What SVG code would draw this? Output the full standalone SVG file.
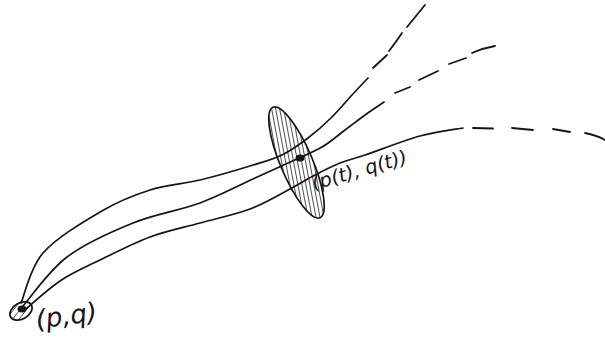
<svg xmlns="http://www.w3.org/2000/svg" width="605" height="340" viewBox="0 0 605 340">
<style>
.ink{fill:none;stroke:#151515;stroke-width:1.7;stroke-linecap:round;stroke-linejoin:round}
.dash{fill:none;stroke:#151515;stroke-width:1.8;stroke-linecap:round}
.hatch{fill:none;stroke:#3a3a3a;stroke-width:0.9}
.lbl{font-family:"DejaVu Sans",sans-serif;font-style:italic;fill:#151515}
</style>
<defs>
<clipPath id="secClip"><ellipse cx="296.5" cy="162.5" rx="60" ry="16" transform="rotate(67 296.5 162.5)"/></clipPath>
<clipPath id="startClip"><ellipse cx="21" cy="311" rx="12" ry="8" transform="rotate(-30 21 311)"/></clipPath>
</defs>
<rect width="605" height="340" fill="#ffffff"/>

<g id="section">
<ellipse cx="296.5" cy="162.5" rx="60" ry="16" transform="rotate(67 296.5 162.5)" fill="#ffffff"/>
<g clip-path="url(#secClip)" class="hatch">
<path d="M262,100 L286,228 M266,100 L290,228 M270,100 L294,228 M274,100 L298,228 M278,100 L302,228 M282,100 L306,228 M286,100 L310,228 M290,100 L314,228 M294,100 L318,228 M298,100 L322,228 M302,100 L326,228 M306,100 L330,228 M310,100 L334,228"/>
</g>
<ellipse cx="296.5" cy="162.5" rx="60" ry="16" transform="rotate(67 296.5 162.5)" class="ink" stroke-width="1.9"/>
</g>

<g id="start">
<ellipse cx="21" cy="311" rx="12" ry="8" transform="rotate(-30 21 311)" fill="#ffffff"/>
<g clip-path="url(#startClip)" class="hatch" stroke-width="1.2">
<path d="M7,318 L22,299 M11,321 L27,301 M16,323 L31,304 M21,323 L35,307"/>
</g>
<ellipse cx="22" cy="309" rx="4.5" ry="3.5" fill="#151515"/>
<ellipse cx="21" cy="311" rx="12" ry="8" transform="rotate(-30 21 311)" class="ink" stroke-width="2"/>
</g>

<g id="connectors">
<path class="ink" d="M21,303 C24.7,294.7 29.8,268.2 43,253 C56.2,237.8 82.2,222.5 100,212 C117.8,201.5 133.3,195.3 150,190 C166.7,184.7 183.3,184 200,180 C216.7,176 236.3,170.2 250,166 C263.7,161.8 272.3,159.7 282,155 C291.7,150.3 299.7,144.3 308,138 C316.3,131.7 324.7,124.2 332,117 C339.3,109.8 346,101.5 352,95 C358,88.5 365.3,80.8 368,78"/>
<path class="dash" d="M373,68 L387,55 M389,51 Q396,42 402,33 M407,27 Q416,16 425,5"/>

<path class="ink" d="M23,306 C30.3,297.8 48.7,270.8 67,257 C85.3,243.2 110.8,232 133,223 C155.2,214 179.7,210.5 200,203 C220.3,195.5 240.3,184.7 255,178 C269.7,171.3 276.8,168.2 288,163 C299.2,157.8 312.5,152.5 322,147 C331.5,141.5 337.8,135.3 345,130 C352.2,124.7 358.5,119.7 365,115 C371.5,110.3 380.8,104.2 384,102"/>
<path class="dash" d="M395,93 L410,87 M419,80 L438,71 M449,64 L466,58 M472,53 Q483,48 495,46"/>

<path class="ink" d="M26,309 C31.7,304.3 47.7,289.2 60,281 C72.3,272.8 85,267.3 100,260 C115,252.7 133.3,243.2 150,237 C166.7,230.8 183.3,227.7 200,223 C216.7,218.3 235,214.7 250,209 C265,203.3 279.2,194.7 290,189 C300.8,183.3 306.7,179.3 315,175 C323.3,170.7 331.7,166.3 340,163 C348.3,159.7 351.7,159.5 365,155 C378.3,150.5 403.7,140.5 420,136 C436.3,131.5 455.8,129.3 463,128"/>
<path class="dash" d="M473,128 L493,128.5 M512,128 L533,130 M553,129 L570,132 M585,133 Q596,135 605,140"/>
</g>

<g id="point">
<ellipse cx="300" cy="158" rx="4.5" ry="3.5" fill="#151515"/>
</g>

<g id="labels">
<text class="lbl" x="37" y="329" font-size="26" transform="rotate(-8 37 329)">(p,q)</text>
<text class="lbl" x="314" y="190" font-size="19.5" transform="rotate(-16 314 190)">(p(t), q(t))</text>
</g>
</svg>
